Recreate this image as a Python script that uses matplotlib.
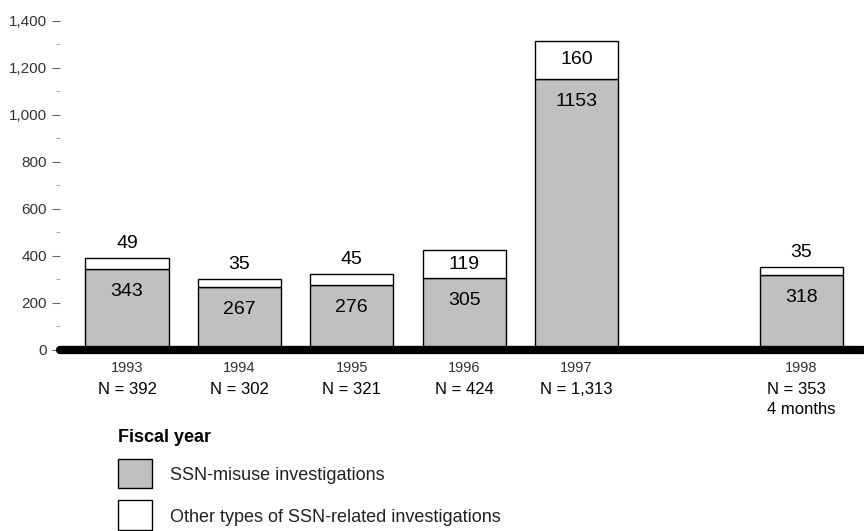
import matplotlib.pyplot as plt
from matplotlib.patches import Rectangle

plt.rcParams['font.family'] = ['Liberation Sans', 'DejaVu Sans']

years = ['1993', '1994', '1995', '1996', '1997', '1998']
positions = [0, 1, 2, 3, 4, 6]
misuse = [343, 267, 276, 305, 1153, 318]
other = [49, 35, 45, 119, 160, 35]
n_labels = ['N = 392', 'N = 302', 'N = 321', 'N = 424', 'N = 1,313', 'N = 353\n4 months']

fig = plt.figure(figsize=(8.64, 5.31), dpi=100)
ax = fig.add_axes([0.069, 0.341, 0.93, 0.62])

w = 0.74
ax.bar(positions, misuse, width=w, color='#c0c0c0', edgecolor='black', linewidth=1)
ax.bar(positions, other, width=w, bottom=misuse, color='white', edgecolor='black', linewidth=1)

for x, m, o in zip(positions, misuse, other):
    ax.text(x, m - 95, str(m), ha='center', va='center', fontsize=14)
    total = m + o
    if o > 100:
        ax.text(x, m + o / 2, str(o), ha='center', va='center', fontsize=14)
    else:
        ax.text(x, total + 62, str(o), ha='center', va='center', fontsize=14)

ax.set_xlim(-0.6, 6.55)
ax.set_ylim(0, 1400)
ax.set_yticks(range(0, 1401, 200))
ax.set_yticklabels(['0'] + [f'{v:,}' for v in range(200, 1401, 200)])
ax.set_yticks(range(100, 1400, 200), minor=True)
ax.tick_params(axis='y', which='major', length=6, color='#666666', labelsize=11,
               labelcolor='#333333', pad=3)
ax.tick_params(axis='y', which='minor', length=3, color='#999999')
ax.set_xticks([])

for s in ['top', 'right', 'left', 'bottom']:
    ax.spines[s].set_visible(False)
ax.plot([-0.6, 6.55], [0, 0], color='black', linewidth=6, solid_capstyle='round',
        clip_on=False, zorder=5)

for x, y, n in zip(positions, years, n_labels):
    ax.annotate(y, (x, 0), xytext=(0, -8), textcoords='offset points',
                ha='center', va='top', fontsize=10.5, color='#333333')
    ax.annotate(n, (x, 0), xytext=(0, -23), textcoords='offset points',
                ha='center', va='top', fontsize=12, linespacing=1.4,
                multialignment='left')

fig.text(118 / 864, 1 - 438 / 531, 'Fiscal year', fontsize=13, fontweight='bold',
         va='center', ha='left')
fig.patches.append(Rectangle((118 / 864, 1 - 488 / 531), 34 / 864, 29 / 531,
                             transform=fig.transFigure, facecolor='#c0c0c0',
                             edgecolor='black', linewidth=1))
fig.patches.append(Rectangle((118 / 864, 1 - 530 / 531), 34 / 864, 30 / 531,
                             transform=fig.transFigure, facecolor='white',
                             edgecolor='black', linewidth=1))
fig.text(170 / 864, 1 - 476 / 531, 'SSN-misuse investigations', fontsize=13,
         va='center', ha='left', color='#222222')
fig.text(170 / 864, 1 - 517 / 531, 'Other types of SSN-related investigations',
         fontsize=13, va='center', ha='left', color='#222222')

fig.savefig('out.png', dpi=100)
